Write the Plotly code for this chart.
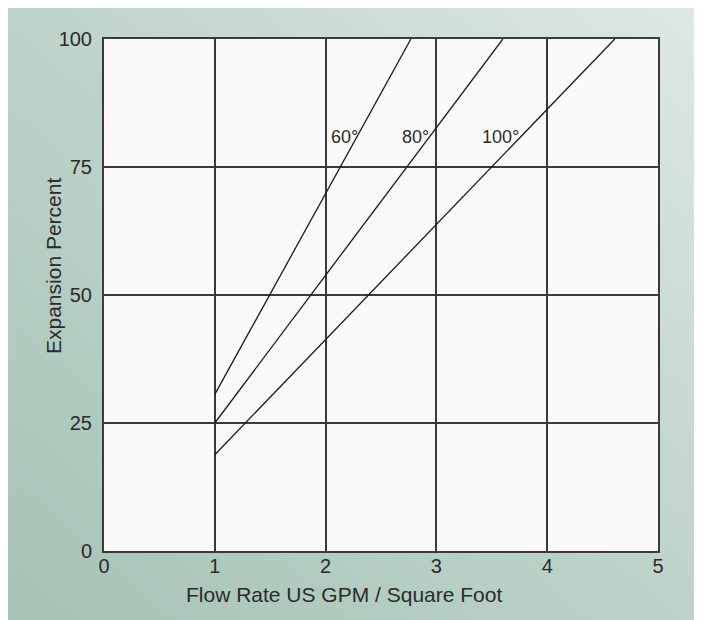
import base64
import plotly.graph_objects as go

# ---- data ----
x_ticks = [0, 1, 2, 3, 4, 5]
y_ticks = [0, 25, 50, 75, 100]
series_names = ["60°", "80°", "100°"]
flow_60 = [1.0, 2.77]
exp_60 = [30.6, 100.0]
flow_80 = [1.0, 3.60]
exp_80 = [25.0, 100.0]
flow_100 = [1.0, 4.61]
exp_100 = [18.8, 100.0]
label_x = [2.31, 2.95, 3.76]
label_y = [80.9, 80.9, 80.9]

FONT = "Liberation Sans, Arial, sans-serif"
TXT = "#2b2b2b"

W, H = 710, 628
# page is offset by 8px body margin; plot box at 104..658.5 x 39..551 on screen
ml, mr, mt, mb = 96, 59.5, 31, 85
pw, ph = W - ml - mr, H - mt - mb

svg = (
    '<svg xmlns="http://www.w3.org/2000/svg" width="710" height="628" preserveAspectRatio="none">'
    '<defs><linearGradient id="g" x1="1" y1="0" x2="0" y2="1">'
    '<stop offset="0" stop-color="#dfe8e5"/>'
    '<stop offset="0.5" stop-color="#bdd3c9"/>'
    '<stop offset="1" stop-color="#a5c2b4"/>'
    '</linearGradient></defs>'
    '<rect width="710" height="628" fill="url(#g)"/></svg>'
)
src = "data:image/svg+xml;base64," + base64.b64encode(svg.encode()).decode()

fig = go.Figure()
for xs, ys in [(flow_60, exp_60), (flow_80, exp_80), (flow_100, exp_100)]:
    fig.add_trace(go.Scatter(x=xs, y=ys, mode="lines",
                             line=dict(color="#1a1a1a", width=1.3),
                             showlegend=False, hoverinfo="skip"))

for name, lx, ly in zip(series_names, label_x, label_y):
    fig.add_annotation(x=lx, y=ly, xref="x", yref="y", text=name,
                       showarrow=False, xanchor="right", yanchor="middle",
                       font=dict(family=FONT, size=18, color=TXT))

fig.add_layout_image(source=src, xref="paper", yref="paper",
                     x=-ml / pw, y=1 + mt / ph,
                     sizex=W / pw, sizey=H / ph,
                     xanchor="left", yanchor="top", sizing="stretch", layer="below")
fig.add_shape(type="rect", xref="x", yref="y", x0=0, x1=5, y0=0, y1=100,
              fillcolor="#fafafa", line=dict(width=0), layer="below")

fig.add_annotation(xref="paper", yref="paper", x=(344 - 104) / pw, y=0, yshift=-43,
                   text="Flow Rate US GPM / Square Foot", showarrow=False,
                   xanchor="center", yanchor="middle",
                   font=dict(family=FONT, size=21, color=TXT))
fig.add_annotation(xref="paper", yref="paper", x=0, xshift=-51, y=(551 - 266) / ph,
                   text="Expansion Percent", showarrow=False, textangle=-90,
                   xanchor="center", yanchor="middle",
                   font=dict(family=FONT, size=21, color=TXT))

fig.update_xaxes(range=[0, 5], tickvals=x_ticks, ticktext=[str(v) for v in x_ticks],
                 showgrid=True, gridcolor="#3a3a3a", gridwidth=1.5,
                 showline=True, linecolor="#3a3a3a", linewidth=2, mirror=True,
                 zeroline=False, ticks="", ticklabelstandoff=-4,
                 tickfont=dict(family=FONT, size=20, color=TXT))
fig.update_yaxes(range=[0, 100], tickvals=y_ticks, ticktext=[str(v) for v in y_ticks],
                 showgrid=True, gridcolor="#3a3a3a", gridwidth=1.5,
                 showline=True, linecolor="#3a3a3a", linewidth=2, mirror=True,
                 zeroline=False, ticks="", ticklabelstandoff=6,
                 tickfont=dict(family=FONT, size=20, color=TXT))

fig.update_layout(width=W, height=H, autosize=False,
                  margin=dict(l=ml, r=mr, t=mt, b=mb),
                  paper_bgcolor="#c0d5cc", plot_bgcolor="#fafafa",
                  font=dict(family=FONT, color=TXT))

fig.write_html(
    "out.html",
    post_script="document.documentElement.style.overflow='hidden';document.body.style.overflow='hidden';",
)
